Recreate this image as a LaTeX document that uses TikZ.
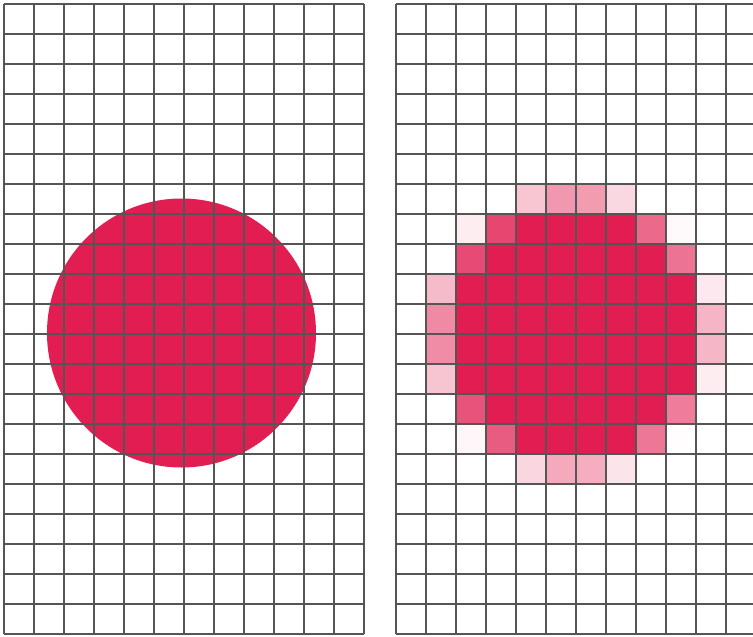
\documentclass[tikz,border=0pt]{standalone}
\definecolor{crim}{HTML}{E11D51}
\definecolor{gridc}{HTML}{555555}
\tikzset{gridline/.style={draw=gridc,line width=2pt}}
\begin{document}
\begin{tikzpicture}[x=1pt,y=-1pt]
\useasboundingbox[fill=white] (0,0) rectangle (753,637);
% left: smooth circle
\fill[crim] (181.5,333) circle[radius=134.5];
% right: pixelated circle
\foreach \c/\r/\p in {
 4/6/25, 5/6/46, 6/6/44, 7/6/17,
 2/7/8, 3/7/82, 4/7/100, 5/7/100, 6/7/100, 7/7/100, 8/7/66, 9/7/2,
 2/8/80, 3/8/100, 4/8/100, 5/8/100, 6/8/100, 7/8/100, 8/8/100, 9/8/62,
 1/9/30, 10/9/10,
 1/10/52, 10/10/33,
 1/11/51, 10/11/32,
 1/12/26, 10/12/8,
 2/13/76, 3/13/100, 4/13/100, 5/13/100, 6/13/100, 7/13/100, 8/13/100, 9/13/58,
 2/14/4, 3/14/72, 4/14/100, 5/14/100, 6/14/100, 7/14/100, 8/14/60, 9/14/1,
 4/15/18, 5/15/38, 6/15/36, 7/15/12}
 {\fill[crim!\p!white] ({396+30*\c},{4+30*\r}) rectangle ++(30,30);}
\foreach \r in {9,10,11,12}
 {\fill[crim] (456,{4+30*\r}) rectangle (696,{34+30*\r});}
% grids
\foreach \i in {0,...,12} {\draw[gridline] ({4+30*\i},4) -- ({4+30*\i},634);}
\foreach \j in {0,...,21} {\draw[gridline] (4,{4+30*\j}) -- (364,{4+30*\j});}
\foreach \i in {0,...,11} {\draw[gridline] ({396+30*\i},4) -- ({396+30*\i},634);}
\foreach \j in {0,...,21} {\draw[gridline] (396,{4+30*\j}) -- (753,{4+30*\j});}
\end{tikzpicture}
\end{document}
